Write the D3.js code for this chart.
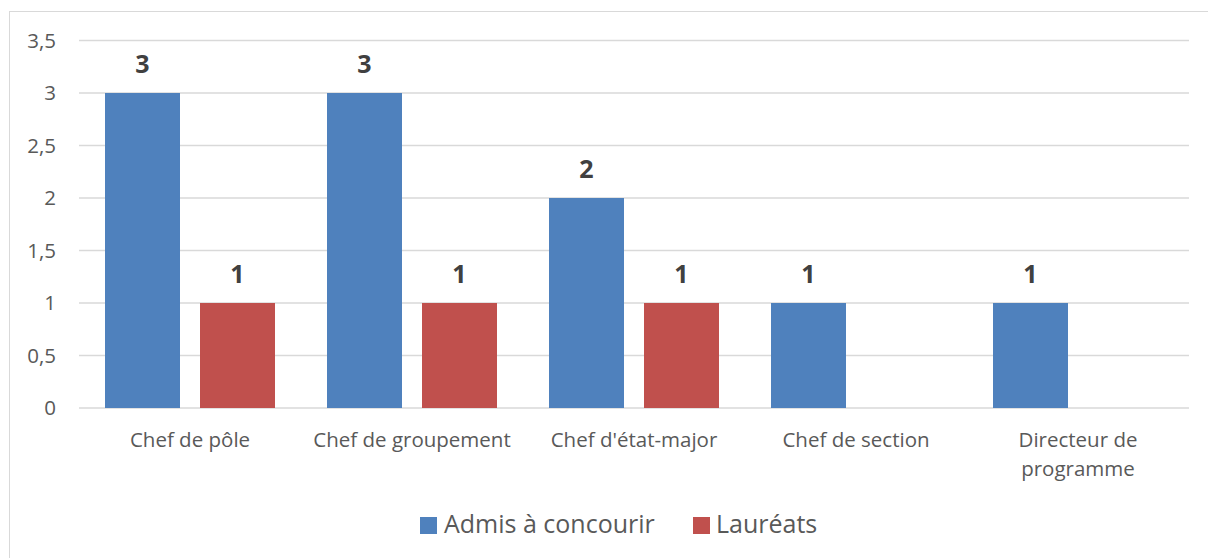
<!DOCTYPE html>
<html>
<head>
<meta charset="utf-8">
<script src="https://cdn.jsdelivr.net/npm/d3@7"></script>
<style>
  html, body { margin: 0; padding: 0; background: #fff; }
  svg { display: block; }
  text { font-family: "Open Sans", sans-serif; }
</style>
</head>
<body>
<svg id="chart" width="1208" height="558"></svg>
<script>
const categories = [["Chef de pôle"], ["Chef de groupement"], ["Chef d'état-major"], ["Chef de section"], ["Directeur de", "programme"]];
const seriesNames = ["Admis à concourir", "Lauréats"];
const admis = [3, 3, 2, 1, 1];
const laureats = [1, 1, 1, null, null];
const yTicks = [0, 0.5, 1, 1.5, 2, 2.5, 3, 3.5];
const colors = ["#4F81BD", "#C0504D"];

const svg = d3.select("#chart");
const W = 1208, H = 558;

// chart frame
svg.append("rect")
  .attr("x", 9.5).attr("y", 11.5)
  .attr("width", W + 10).attr("height", H + 10)
  .attr("fill", "#fff").attr("stroke", "#d9d9d9").attr("stroke-width", 1);

const plot = { left: 79, right: 1189, top: 40.5, bottom: 408 };

const bandW = (plot.right - plot.left) / categories.length;
const x0 = d3.scaleBand()
  .domain(d3.range(categories.length))
  .range([plot.left, plot.right]);
const x1 = d3.scaleBand()
  .domain(d3.range(seriesNames.length))
  .range([0, 170])
  .paddingInner(20 / 95);

const y = d3.scaleLinear().domain([0, 3.5]).range([plot.bottom, plot.top]);

// gridlines
svg.append("g")
  .selectAll("line").data(yTicks).join("line")
  .attr("x1", plot.left).attr("x2", plot.right)
  .attr("y1", d => y(d)).attr("y2", d => y(d))
  .attr("stroke", "#d9d9d9").attr("stroke-width", 1.4);

// y axis labels
const fmt = d => String(d).replace(".", ",");
svg.append("g")
  .selectAll("text").data(yTicks).join("text")
  .attr("x", 56).attr("y", d => y(d))
  .attr("dy", "0.35em")
  .attr("text-anchor", "end")
  .attr("font-size", 20.5)
  .attr("fill", "#595959")
  .text(fmt);

const groupX = i => x0(i) + (x0.bandwidth() - 170) / 2;
const series = [admis, laureats];

series.forEach((vals, s) => {
  const g = svg.append("g");
  const data = vals.map((v, i) => ({ v, i })).filter(d => d.v != null);
  g.selectAll("rect").data(data).join("rect")
    .attr("x", d => groupX(d.i) + x1(s))
    .attr("width", x1.bandwidth())
    .attr("y", d => y(d.v))
    .attr("height", d => y(0) - y(d.v))
    .attr("fill", colors[s]);
  g.selectAll("text").data(data).join("text")
    .attr("x", d => groupX(d.i) + x1(s) + x1.bandwidth() / 2)
    .attr("y", d => y(d.v) - 20)
    .attr("text-anchor", "middle")
    .attr("font-size", 25)
    .attr("font-weight", "bold")
    .attr("fill", "#404040")
    .text(d => d.v);
});

// x axis labels
const xl = svg.append("g");
categories.forEach((lines, i) => {
  const cx = x0(i) + x0.bandwidth() / 2;
  const t = xl.append("text")
    .attr("x", cx)
    .attr("y", 447)
    .attr("text-anchor", "middle")
    .attr("font-size", 20.5)
    .attr("fill", "#595959");
  lines.forEach((ln, k) => {
    t.append("tspan")
      .attr("x", cx)
      .attr("dy", k === 0 ? 0 : 29)
      .text(ln);
  });
});

// legend
const legendItems = [
  { name: seriesNames[0], color: colors[0], sx: 420, tx: 444 },
  { name: seriesNames[1], color: colors[1], sx: 693, tx: 716 }
];
const lg = svg.append("g");
legendItems.forEach(it => {
  lg.append("rect").attr("x", it.sx).attr("y", 517).attr("width", 17).attr("height", 17).attr("fill", it.color);
  lg.append("text").attr("x", it.tx).attr("y", 533)
    .attr("font-size", 25).attr("fill", "#595959").text(it.name);
});
</script>
</body>
</html>
